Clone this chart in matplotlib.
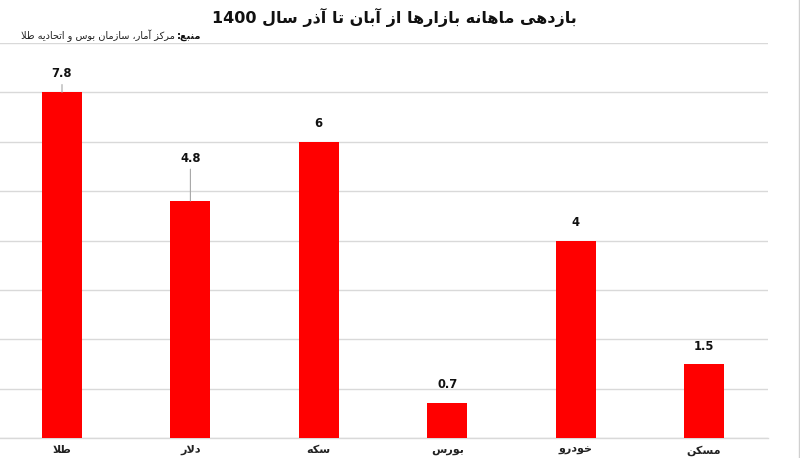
import re
import matplotlib
matplotlib.use("Agg")
import matplotlib.pyplot as plt
from matplotlib.lines import Line2D

# ---------------- data ----------------
title = "بازدهی ماهانه بازارها از آبان تا آذر سال 1400"
source_label = "منبع:"
source_text = "مرکز آمار، سازمان بوس و اتحادیه طلا"
categories = ["طلا", "دلار", "سکه", "بورس", "خودرو", "مسکن"]
bar_heights = [7.0, 4.8, 6.0, 0.7, 4.0, 1.5]
value_labels = ["7.8", "4.8", "6", "0.7", "4", "1.5"]
y_ticks = [0, 1, 2, 3, 4, 5, 6, 7, 8]

# ---------------- minimal Arabic/Persian shaping ----------------
# (isolated, final, initial, medial); None initial => does not join forward
FORMS = {
    "ا": ("\uFE8D", "\uFE8E", None, None),
    "آ": ("\uFE81", "\uFE82", None, None),
    "ب": ("\uFE8F", "\uFE90", "\uFE91", "\uFE92"),
    "ت": ("\uFE95", "\uFE96", "\uFE97", "\uFE98"),
    "ح": ("\uFEA1", "\uFEA2", "\uFEA3", "\uFEA4"),
    "خ": ("\uFEA5", "\uFEA6", "\uFEA7", "\uFEA8"),
    "د": ("\uFEA9", "\uFEAA", None, None),
    "ذ": ("\uFEAB", "\uFEAC", None, None),
    "ر": ("\uFEAD", "\uFEAE", None, None),
    "ز": ("\uFEAF", "\uFEB0", None, None),
    "س": ("\uFEB1", "\uFEB2", "\uFEB3", "\uFEB4"),
    "ط": ("\uFEC1", "\uFEC2", "\uFEC3", "\uFEC4"),
    "ع": ("\uFEC9", "\uFECA", "\uFECB", "\uFECC"),
    "ل": ("\uFEDD", "\uFEDE", "\uFEDF", "\uFEE0"),
    "م": ("\uFEE1", "\uFEE2", "\uFEE3", "\uFEE4"),
    "ن": ("\uFEE5", "\uFEE6", "\uFEE7", "\uFEE8"),
    "ه": ("\uFEE9", "\uFEEA", "\uFEEB", "\uFEEC"),
    "و": ("\uFEED", "\uFEEE", None, None),
    "ی": ("\uFBFC", "\uFBFD", "\uFBFE", "\uFBFF"),
    "ک": ("\uFB8E", "\uFB8F", "\uFB90", "\uFB91"),
    "LA": ("\uFEFB", "\uFEFC", None, None),
    "LAA": ("\uFEF5", "\uFEF6", None, None),
}


def shape(text):
    chars = []
    i = 0
    while i < len(text):
        c = text[i]
        if c == "ل" and i + 1 < len(text) and text[i + 1] in ("ا", "آ"):
            chars.append("LA" if text[i + 1] == "ا" else "LAA")
            i += 2
        else:
            chars.append(c)
            i += 1
    out = []
    for k, c in enumerate(chars):
        if c not in FORMS:
            out.append(c)
            continue
        prev = chars[k - 1] if k > 0 else None
        nxt = chars[k + 1] if k + 1 < len(chars) else None
        pj = prev in FORMS and FORMS[prev][2] is not None
        nj = nxt in FORMS and FORMS[c][2] is not None
        iso, fin, ini, med = FORMS[c]
        if pj and nj:
            out.append(med)
        elif pj:
            out.append(fin)
        elif nj:
            out.append(ini)
        else:
            out.append(iso)
    vis = "".join(out)[::-1]
    vis = re.sub(r"[0-9][0-9.]*", lambda m: m.group(0)[::-1], vis)
    return vis


plt.rcParams["font.family"] = ["DejaVu Sans"]

W, H = 800, 458
fig = plt.figure(figsize=(W / 100, H / 100), dpi=100)
fig.patch.set_facecolor("white")

ax_left, ax_right = -2.2, 768.2
ax_top, ax_bottom = 43, 438
ax = fig.add_axes([ax_left / W, (H - ax_bottom) / H,
                   (ax_right - ax_left) / W, (ax_bottom - ax_top) / H])

x = list(range(len(categories)))
ax.bar(x, bar_heights, width=0.31, color="#FF0000", zorder=3)

ax.set_xlim(-0.5, len(categories) - 0.5)
ax.set_ylim(0, 8)
ax.set_yticks(y_ticks)
ax.yaxis.grid(True, color="#d9d9d9", lw=1.0, zorder=0)
ax.tick_params(axis="y", left=False, labelleft=False)
ax.tick_params(axis="x", bottom=False, pad=1.5)
ax.set_xticks(x)
ax.set_xticklabels([shape(c) for c in categories], fontsize=8,
                   fontweight="bold", color="#222222")
for s in ["top", "right", "left"]:
    ax.spines[s].set_visible(False)
ax.spines["bottom"].set_color("#d9d9d9")
ax.spines["bottom"].set_linewidth(1.0)
ax.set_facecolor("white")

# value labels (offsets in pixels above bar top)
label_offsets = [12, 36, 12, 12, 12, 11]
leader = [True, True, False, False, False, False]
for xi, h, lab, off, ld in zip(x, bar_heights, value_labels, label_offsets, leader):
    ap = None
    if ld:
        ap = dict(arrowstyle="-", color="#a6a6a6", lw=0.8, shrinkA=1, shrinkB=0)
    ax.annotate(lab, xy=(xi, h), xytext=(0, off), textcoords="offset pixels",
                ha="center", va="bottom", fontsize=8.3, fontweight="bold",
                color="#111111", arrowprops=ap, annotation_clip=False)

# title
fig.text(394 / W, 1 - 17 / H, shape(title), ha="center", va="center",
         fontsize=11.5, fontweight="bold", color="#111111")

# source line: bold label on the right, regular text to its left
renderer = fig.canvas.get_renderer()
src_x, src_y = 201, 36
tb = fig.text(src_x / W, 1 - src_y / H, shape(source_label), ha="right",
              va="center", fontsize=7, fontweight="bold", color="#111111")
bw = tb.get_window_extent(renderer=renderer).width
fig.text((src_x - bw - 2) / W, 1 - src_y / H, shape(source_text), ha="right",
         va="center", fontsize=7, color="#222222")

# right border line
fig.add_artist(Line2D([798.5 / W, 798.5 / W], [0, 1], transform=fig.transFigure,
                      color="#d0d0d0", lw=1))

fig.savefig("out.png", dpi=100, facecolor="white")
